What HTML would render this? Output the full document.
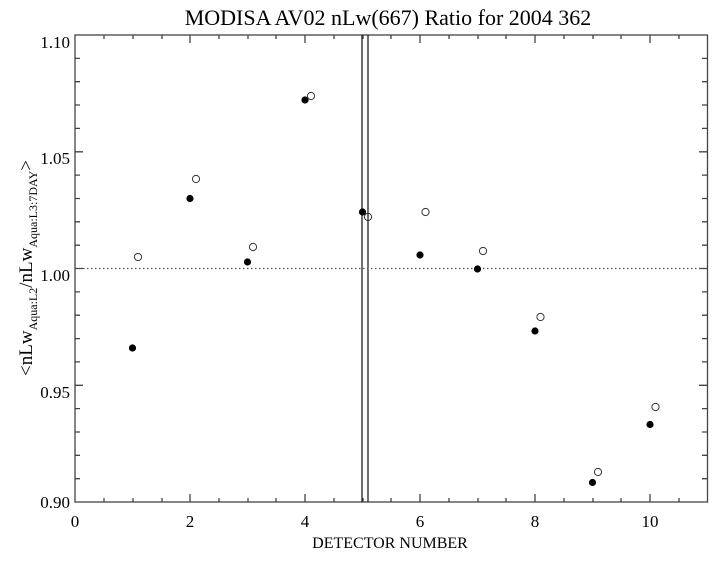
<!DOCTYPE html><html><head><style>body{margin:0;background:#fff}</style></head><body>
<svg width="718" height="556" xmlns="http://www.w3.org/2000/svg" font-family="Liberation Serif, serif">
<rect width="718" height="556" fill="#fff"/>
<text x="388" y="25" font-size="22" text-anchor="middle">MODISA AV02 nLw(667) Ratio for 2004 362</text>
<g stroke="#444" stroke-width="1.3" fill="none">
<rect x="75" y="35" width="632.5" height="467"/>
<path d="M104,502v-4M133,502v-4M162,502v-4M190,502v-8M219,502v-4M248,502v-4M276,502v-4M305,502v-8M334,502v-4M363,502v-4M391,502v-4M420,502v-8M449,502v-4M478,502v-4M506,502v-4M535,502v-8M564,502v-4M593,502v-4M621,502v-4M650,502v-8M679,502v-4
M104,35v4M133,35v4M162,35v4M190,35v8M219,35v4M248,35v4M276,35v4M305,35v8M334,35v4M363,35v4M391,35v4M420,35v8M449,35v4M478,35v4M506,35v4M535,35v8M564,35v4M593,35v4M621,35v4M650,35v8M679,35v4"/>
<path d="M75,58.4h5M75,81.7h5M75,105h5M75,128.4h5M75,151.8h8M75,175.1h5M75,198.5h5M75,221.8h5M75,245.2h5M75,268.5h8M75,291.9h5M75,315.2h5M75,338.6h5M75,361.9h5M75,385.3h8M75,408.6h5M75,432h5M75,455.3h5M75,478.7h5
M707,58.4h-5M707,81.7h-5M707,105h-5M707,128.4h-5M707,151.8h-8M707,175.1h-5M707,198.5h-5M707,221.8h-5M707,245.2h-5M707,268.5h-8M707,291.9h-5M707,315.2h-5M707,338.6h-5M707,361.9h-5M707,385.3h-8M707,408.6h-5M707,432h-5M707,455.3h-5M707,478.7h-5"/>
<path d="M362,35V502M368,35V502" stroke="#222"/>
<path d="M75,268.5H707" stroke-dasharray="1.5,2.5" stroke="#555"/>
</g>
<g font-size="17" text-anchor="end">
<text x="70" y="48">1.10</text><text x="70" y="164">1.05</text><text x="70" y="281">1.00</text><text x="70" y="398">0.95</text><text x="70" y="508">0.90</text>
</g>
<g font-size="17" text-anchor="middle">
<text x="75" y="527">0</text><text x="190" y="527">2</text><text x="305" y="527">4</text><text x="420" y="527">6</text><text x="535" y="527">8</text><text x="650" y="527">10</text>
<text x="390" y="548" font-size="16">DETECTOR NUMBER</text>
</g>
<text transform="translate(32,268) rotate(-90)" font-size="19" text-anchor="middle">&lt;nLw<tspan font-size="12" dy="5">Aqua:L2</tspan><tspan dy="-5">/nLw</tspan><tspan font-size="12" dy="5">Aqua:L3:7DAY</tspan><tspan dy="-5">&gt;</tspan></text>
<g fill="#000">
<circle cx="132.5" cy="348" r="3.6"/><circle cx="190" cy="198.5" r="3.6"/><circle cx="247.5" cy="262" r="3.6"/><circle cx="305" cy="100" r="3.6"/><circle cx="362.5" cy="212" r="3.6"/><circle cx="420" cy="255" r="3.6"/><circle cx="477.5" cy="269" r="3.6"/><circle cx="535" cy="331" r="3.6"/><circle cx="592.5" cy="482.5" r="3.6"/><circle cx="650" cy="424.5" r="3.6"/>
</g>
<g fill="none" stroke="#333" stroke-width="1">
<circle cx="138" cy="257" r="3.6"/><circle cx="196" cy="179" r="3.6"/><circle cx="253" cy="247" r="3.6"/><circle cx="311" cy="96" r="3.6"/><circle cx="368" cy="217" r="3.6"/><circle cx="425.5" cy="212" r="3.6"/><circle cx="483" cy="251" r="3.6"/><circle cx="540.5" cy="317" r="3.6"/><circle cx="598" cy="472" r="3.6"/><circle cx="655.5" cy="407" r="3.6"/>
</g>
</svg>
</body></html>
